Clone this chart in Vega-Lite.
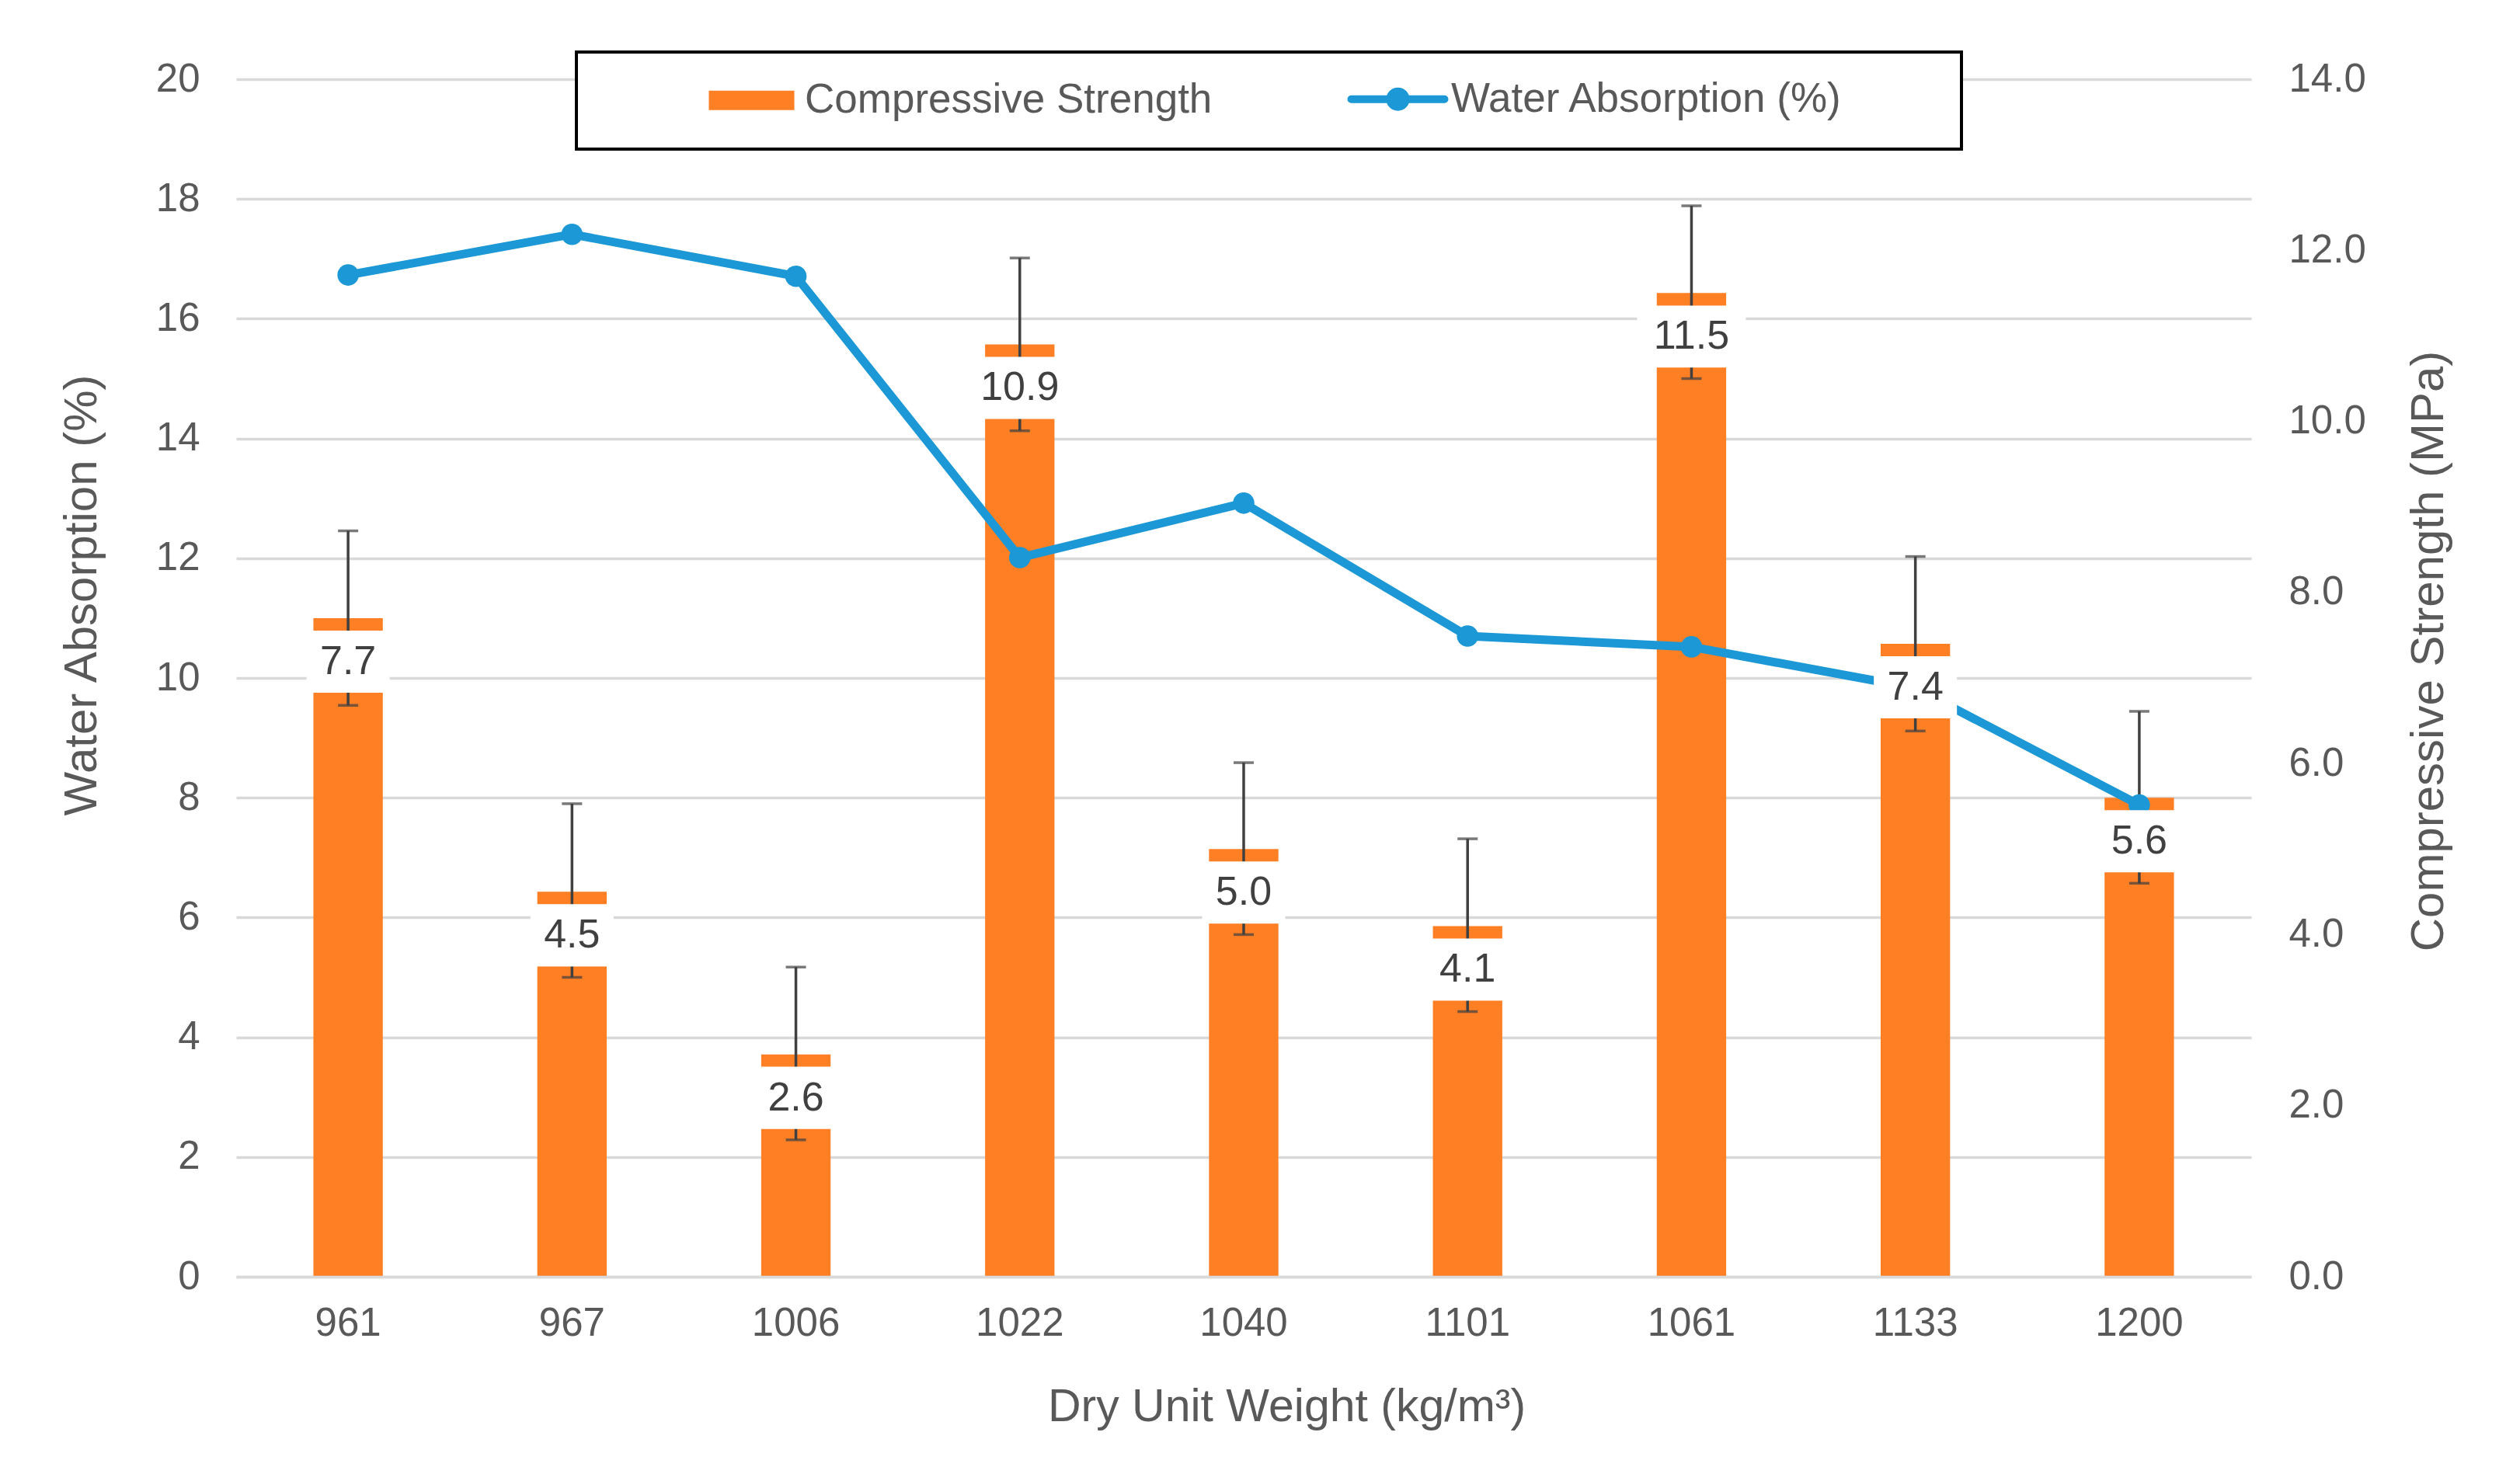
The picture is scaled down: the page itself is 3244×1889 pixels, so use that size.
{
  "$schema": "https://vega.github.io/schema/vega-lite/v6.json",
  "description": "Compressive strength (bars, right axis) and water absorption (line, left axis) by dry unit weight.",
  "width": 2594,
  "height": 1542,
  "autosize": {"type": "none"},
  "padding": {"left": 304, "top": 102, "right": 346, "bottom": 245},
  "background": "white",
  "data": {
    "values": [
      {"dw": "961", "cs": 7.7, "lo": 6.68, "hi": 8.72, "wa": 16.73},
      {"dw": "967", "cs": 4.5, "lo": 3.5, "hi": 5.53, "wa": 17.41},
      {"dw": "1006", "cs": 2.6, "lo": 1.6, "hi": 3.62, "wa": 16.71},
      {"dw": "1022", "cs": 10.9, "lo": 9.89, "hi": 11.91, "wa": 12.01},
      {"dw": "1040", "cs": 5.0, "lo": 4.0, "hi": 6.01, "wa": 12.92},
      {"dw": "1101", "cs": 4.1, "lo": 3.1, "hi": 5.12, "wa": 10.7},
      {"dw": "1061", "cs": 11.5, "lo": 10.5, "hi": 12.52, "wa": 10.52},
      {"dw": "1133", "cs": 7.4, "lo": 6.38, "hi": 8.42, "wa": 9.83},
      {"dw": "1200", "cs": 5.6, "lo": 4.6, "hi": 6.61, "wa": 7.88}
    ]
  },
  "encoding": {
    "x": {
      "field": "dw",
      "type": "nominal",
      "sort": null,
      "scale": {"paddingInner": 0.69, "paddingOuter": 0.345},
      "axis": {
        "title": "Dry Unit Weight (kg/m³)",
        "labelAngle": 0,
        "labelPadding": 35,
        "labelFontSize": 51,
        "ticks": false,
        "domain": true,
        "domainColor": "#d9d9d9",
        "domainWidth": 3.5,
        "titleFontSize": 59,
        "titlePadding": 53,
        "titleX": 1352,
        "zindex": 1
      }
    }
  },
  "layer": [
    {
      "layer": [
        {
          "mark": {"type": "bar", "color": "#fe7f24"},
          "encoding": {
            "y": {
              "field": "cs",
              "type": "quantitative",
              "scale": {"domain": [0, 14], "nice": false},
              "axis": {
                "orient": "right",
                "title": "Compressive Strength (MPa)",
                "values": [0, 2, 4, 6, 8, 10, 12, 14],
                "format": ".1f",
                "grid": false,
                "domain": false,
                "ticks": false,
                "labelPadding": 48,
                "labelFontSize": 51,
                "titleFontSize": 60,
                "titleAngle": 270,
                "titleY": 736,
                "titlePadding": 112
              }
            },
            "color": {
              "datum": "Compressive Strength",
              "scale": {
                "domain": ["Compressive Strength", "Water Absorption (%)"],
                "range": ["#fe7f24", "#1b98d5"]
              },
              "legend": {
                "title": null,
                "orient": "none",
                "legendX": 438,
                "legendY": -35,
                "direction": "horizontal",
                "labelFontSize": 53,
                "labelColor": "#595959",
                "labelOffset": 42,
                "labelLimit": 1000,
                "symbolSize": 14400,
                "symbolOffset": 165,
                "columnPadding": 47,
                "padding": 34,
                "labelExpr": "datum.label === 'Water Absorption (%)' ? datum.label + '\u00a0\u00a0\u00a0\u00a0\u00a0\u00a0\u00a0\u00a0\u200b' : datum.label",
                "encode": {
                  "legend": {
                    "update": {
                      "stroke": {"value": "#000000"},
                      "strokeWidth": {"value": 4},
                      "fill": {"value": "#ffffff"}
                    }
                  },
                  "symbols": {
                    "update": {
                      "shape": {"signal": "datum.value === 'Compressive Strength' ? 'M-0.917,-0.208H0.917V0.208H-0.917Z' : 'M-1,0H1M0.167,0A0.167,0.167,0,1,1,-0.167,0A0.167,0.167,0,1,1,0.167,0Z'"},
                      "fill": {"signal": "datum.value === 'Compressive Strength' ? '#fe7f24' : '#1b98d5'"},
                      "stroke": {"signal": "datum.value === 'Compressive Strength' ? '#fe7f24' : '#1b98d5'"},
                      "strokeWidth": {"signal": "datum.value === 'Compressive Strength' ? 0 : 10"},
                      "strokeCap": {"value": "round"},
                      "opacity": {"value": 1},
                      "fillOpacity": {"value": 1},
                      "strokeOpacity": {"value": 1}
                    }
                  }
                }
              }
            }
          }
        },
        {
          "mark": {"type": "rule", "color": "#404040", "strokeWidth": 3.5},
          "encoding": {
            "y": {"field": "lo", "type": "quantitative"},
            "y2": {"field": "hi"}
          }
        },
        {
          "mark": {"type": "tick", "color": "#404040", "thickness": 3.5, "size": 26},
          "encoding": {"y": {"field": "lo", "type": "quantitative"}}
        },
        {
          "mark": {"type": "tick", "color": "#404040", "thickness": 3.5, "size": 26},
          "encoding": {"y": {"field": "hi", "type": "quantitative"}}
        }
      ]
    },
    {
      "mark": {
        "type": "line",
        "strokeWidth": 11,
        "point": {"filled": true, "size": 760, "opacity": 1}
      },
      "encoding": {
        "y": {
          "field": "wa",
          "type": "quantitative",
          "scale": {"domain": [0, 20], "nice": false},
          "axis": {
            "orient": "left",
            "title": "Water Absorption (%)",
            "values": [0, 2, 4, 6, 8, 10, 12, 14, 16, 18, 20],
            "grid": true,
            "gridColor": "#d9d9d9",
            "gridWidth": 3.5,
            "domain": false,
            "ticks": false,
            "labelPadding": 47,
            "labelFontSize": 51,
            "titleFontSize": 60,
            "titleY": 664,
            "titlePadding": 64
          }
        },
        "color": {"datum": "Water Absorption (%)"}
      }
    },
    {
      "layer": [
        {
          "mark": {"type": "point", "filled": true, "fill": "#ffffff", "opacity": 1, "strokeWidth": 0, "yOffset": 56},
          "encoding": {
            "y": {
              "field": "cs",
              "type": "quantitative",
              "scale": {"domain": [0, 14], "nice": false},
              "axis": null
            },
            "shape": {
              "condition": {"test": "datum.cs >= 10", "value": "M-1,-0.571H1V0.571H-1Z"},
              "value": "M-1,-0.748H1V0.748H-1Z"
            },
            "size": {
              "condition": {"test": "datum.cs >= 10", "value": 19600},
              "value": 11449
            }
          }
        },
        {
          "mark": {"type": "text", "yOffset": 56, "baseline": "middle", "align": "center", "fontSize": 52, "color": "#404040"},
          "encoding": {
            "y": {"field": "cs", "type": "quantitative", "axis": null},
            "text": {"field": "cs", "type": "quantitative", "format": ".1f"}
          }
        }
      ]
    }
  ],
  "resolve": {"scale": {"y": "independent"}, "axis": {"y": "independent"}},
  "config": {
    "font": "Liberation Sans",
    "view": {"stroke": null},
    "axis": {
      "labelFont": "Liberation Sans",
      "titleFont": "Liberation Sans",
      "labelColor": "#595959",
      "titleColor": "#595959",
      "titleFontWeight": "normal"
    },
    "legend": {"labelFont": "Liberation Sans"}
  }
}
